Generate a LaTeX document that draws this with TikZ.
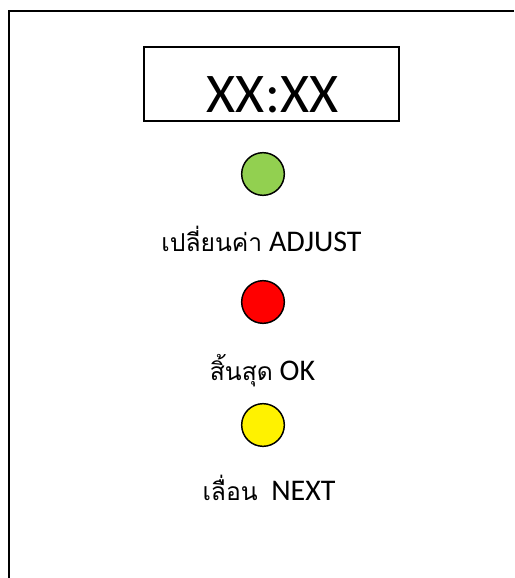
\documentclass[tikz,border=0pt]{standalone}
\usepackage{fontspec}
\setmainfont{Carlito}
\newfontfamily\thaifont[Script=Thai]{Loma}
\newcommand\thaitext[1]{{\fontsize{18.5}{22}\thaifont #1}}
\definecolor{lampgreen}{HTML}{92D050}
\begin{document}
\begin{tikzpicture}[x=0.75pt, y=-0.75pt,
	lamp/.style={circle, draw, line width=1.1pt, minimum size=32pt, inner sep=0pt},
	btntext/.style={anchor=base, inner sep=0pt, font=\fontsize{22.5}{26}\selectfont}]

	\useasboundingbox (0,0) rectangle (514,578);
	\draw[line width=1.5pt] (514,11) -- (9,11) -- (9,578);

	\node[draw, line width=1.5pt, minimum width=191.25pt, minimum height=55.5pt] (screen) at (271.5,84) {};
	\node[anchor=base, inner sep=0pt, font=\fontsize{42}{50}\selectfont] (time) at (272.5,112) {XX:XX};

	\node[lamp, fill=lampgreen] (green) at (263,174) {};
	\node[btntext] (adjust) at (261.5,251) {\thaitext{เปลี่ยนค่า} ADJUST};

	\node[lamp, fill=red] (red) at (263,302) {};
	\node[btntext] (ok) at (262.5,380) {\thaitext{สิ้นสุด} OK};

	\node[lamp, fill=yellow] (yellow) at (263,425) {};
	\node[btntext] (next) at (269,500) {\thaitext{เลื่อน}\ \ NEXT};
\end{tikzpicture}
\end{document}
